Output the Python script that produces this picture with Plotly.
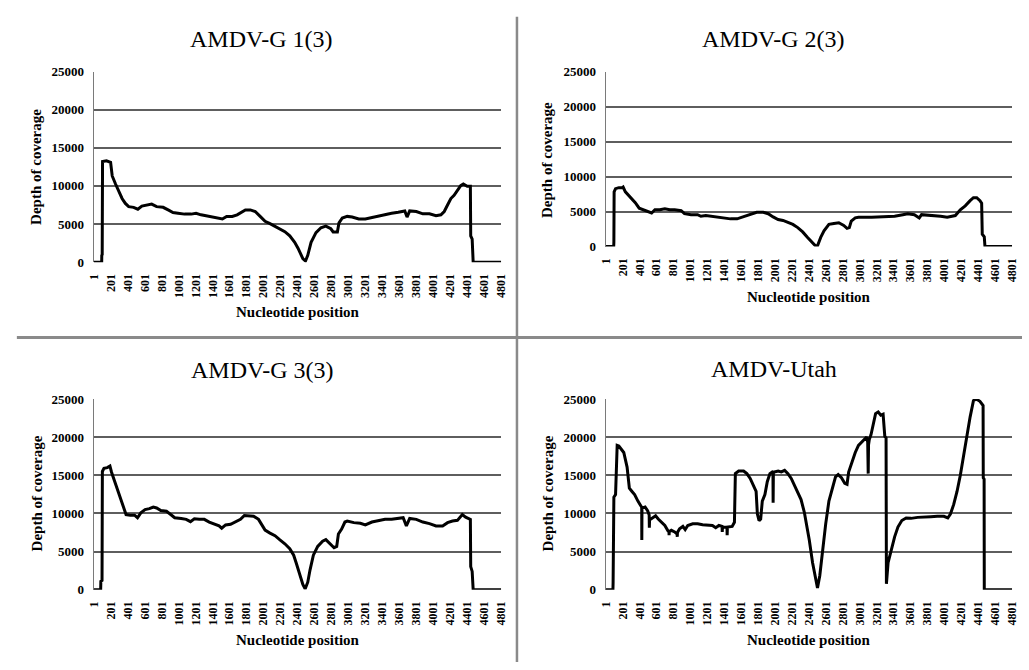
import plotly.graph_objects as go

W, H = 1029, 670

# ---------------- data ----------------
titles = ["AMDV-G 1(3)", "AMDV-G 2(3)", "AMDV-G 3(3)", "AMDV-Utah"]
x_ticks = list(range(1, 4802, 200))
y_ticks = [0, 5000, 10000, 15000, 20000, 25000]

pos_g1 = [1, 94, 95, 100, 104, 150, 199, 218, 257, 295, 334, 373, 412, 470, 520, 567, 625, 683, 741, 818,
          877, 934, 993, 1070, 1148, 1206, 1264, 1322, 1400, 1458, 1516, 1566, 1632, 1690, 1729, 1787, 1845, 1903, 1961, 2019,
          2077, 2136, 2194, 2252, 2310, 2368, 2407, 2464, 2495, 2522, 2561, 2619, 2677, 2735, 2794, 2821, 2871, 2890, 2929, 2987,
          3045, 3123, 3200, 3278, 3355, 3433, 3510, 3588, 3665, 3692, 3723, 3801, 3878, 3956, 4033, 4091, 4130, 4169, 4208, 4246,
          4285, 4324, 4355, 4401, 4438, 4442, 4459, 4471, 4801]
cov_g1 = [0, 0, 900, 1000, 13200, 13300, 13100, 11300, 10250, 9200, 8350, 7700, 7280, 7190, 6940, 7360, 7490, 7620, 7280, 7190,
          6850, 6510, 6420, 6300, 6300, 6420, 6210, 6080, 5870, 5790, 5660, 6000, 6000, 6210, 6510, 6850, 6850, 6640, 6000, 5360,
          5060, 4720, 4300, 4000, 3450, 2600, 1830, 470, 150, 900, 2600, 3870, 4510, 4720, 4380, 3960, 3960, 5150, 5790, 6000,
          5910, 5660, 5660, 5870, 6000, 6210, 6420, 6550, 6720, 5910, 6720, 6640, 6340, 6340, 6080, 6210, 6640, 7490, 8340, 8770,
          9400, 10040, 10250, 9960, 9960, 3450, 3020, 0, 0]

pos_g2 = [1, 95, 97, 100, 117, 156, 194, 206, 233, 291, 350, 396, 447, 505, 543, 582, 640, 699, 757, 815,
          892, 931, 1009, 1086, 1125, 1183, 1242, 1319, 1397, 1474, 1552, 1629, 1707, 1784, 1862, 1920, 1978, 2037, 2095, 2153,
          2211, 2269, 2327, 2385, 2424, 2475, 2502, 2540, 2579, 2637, 2696, 2754, 2812, 2851, 2878, 2901, 2948, 2986, 3142, 3297,
          3413, 3510, 3568, 3646, 3704, 3731, 3840, 3956, 4034, 4130, 4189, 4247, 4305, 4344, 4383, 4421, 4441, 4448, 4472, 4480,
          4801]
cov_g2 = [0, 0, 600, 7800, 8270, 8410, 8410, 8500, 7810, 7110, 6270, 5480, 5250, 4880, 4790, 5250, 5250, 5390, 5250, 5250,
          5110, 4690, 4550, 4550, 4320, 4420, 4320, 4180, 4090, 3950, 3950, 4230, 4550, 4880, 4880, 4690, 4230, 3860, 3720, 3490,
          3160, 2700, 2090, 1300, 840, 140, 100, 1300, 2230, 3160, 3300, 3390, 3020, 2600, 2700, 3630, 4090, 4180, 4180, 4230,
          4320, 4550, 4690, 4550, 4090, 4550, 4460, 4320, 4180, 4420, 5250, 5810, 6550, 6970, 6970, 6550, 6180, 1770, 1390, 0,
          0]

pos_g3 = [1, 82, 84, 98, 102, 121, 160, 191, 210, 237, 276, 315, 353, 381, 431, 481, 516, 555, 605, 656,
          702, 741, 791, 857, 907, 954, 1031, 1090, 1140, 1186, 1244, 1303, 1361, 1419, 1477, 1508, 1554, 1613, 1671, 1729,
          1775, 1826, 1884, 1942, 1981, 2019, 2077, 2136, 2194, 2252, 2310, 2356, 2387, 2425, 2464, 2491, 2522, 2549, 2588, 2639,
          2697, 2735, 2782, 2832, 2863, 2883, 2921, 2960, 2987, 3065, 3142, 3200, 3278, 3355, 3433, 3510, 3588, 3646, 3684, 3723,
          3801, 3878, 3956, 4033, 4111, 4169, 4227, 4285, 4343, 4382, 4438, 4442, 4459, 4471, 4801]
cov_g3 = [0, 0, 1100, 1200, 15500, 15900, 16000, 16200, 15400, 14500, 13200, 11900, 10700, 9850, 9770, 9770, 9430, 10070, 10490, 10620,
          10840, 10710, 10370, 10280, 9850, 9430, 9340, 9220, 8920, 9300, 9220, 9220, 8870, 8580, 8360, 8060, 8490, 8580, 8920, 9220,
          9730, 9730, 9640, 9220, 8580, 7810, 7420, 7080, 6530, 6020, 5380, 4520, 3460, 1960, 680, 100, 980, 2600, 4520, 5670,
          6360, 6570, 6020, 5500, 5670, 7300, 7940, 8870, 9000, 8790, 8700, 8490, 8870, 9090, 9220, 9220, 9340, 9430, 8360, 9340,
          9220, 8870, 8660, 8360, 8360, 8790, 9000, 9090, 9860, 9510, 9220, 3030, 2390, 0, 0]

pos_utah = [1, 86, 88, 97, 117, 136, 156, 187, 214, 253, 280, 311, 342, 381, 412, 426, 427, 429, 466, 497,
            514, 516, 519, 536, 563, 590, 621, 660, 699, 737, 748, 749, 751, 776, 815, 844, 846, 848, 873, 912,
            939, 970, 1028, 1086, 1145, 1203, 1261, 1300, 1338, 1375, 1377, 1380, 1433, 1435, 1438, 1494, 1521, 1532, 1571, 1629,
            1668, 1707, 1746, 1777, 1792, 1812, 1831, 1850, 1881, 1909, 1940, 1971, 1976, 1978, 1981, 2037, 2075, 2114, 2153, 2192,
            2230, 2269, 2308, 2347, 2385, 2405, 2444, 2482, 2502, 2529, 2560, 2599, 2637, 2676, 2715, 2746, 2785, 2824, 2851, 2870,
            2909, 2948, 2986, 3025, 3064, 3083, 3095, 3101, 3105, 3114, 3134, 3161, 3188, 3219, 3250, 3277, 3297, 3312, 3316, 3336,
            3374, 3413, 3452, 3498, 3549, 3607, 3685, 3762, 3840, 3917, 3995, 4041, 4072, 4111, 4150, 4189, 4227, 4266, 4305, 4344,
            4375, 4421, 4458, 4460, 4470, 4472, 4801]
cov_utah = [0, 0, 980, 12120, 12460, 18920, 18840, 18410, 17990, 16070, 13310, 12880, 12460, 11610, 10970, 10800, 6500, 10700, 10840, 10330,
            9800, 8120, 9300, 9270, 9480, 9690, 9270, 8840, 8420, 7700, 7600, 7140, 7600, 7780, 7570, 7300, 6930, 7500, 7990, 8290,
            7870, 8420, 8630, 8630, 8500, 8420, 8420, 8120, 8420, 8300, 7570, 8200, 8200, 7140, 8200, 8290, 8840, 15220, 15560, 15560,
            15220, 14580, 13730, 12880, 9910, 9060, 9270, 11610, 12460, 14160, 15220, 15520, 15500, 11400, 15400, 15560, 15440, 15650, 15220, 14580,
            13730, 12880, 11820, 10120, 7780, 6500, 3530, 980, 210, 1830, 5230, 8630, 11610, 13310, 14800, 15090, 14670, 13950, 13820, 15430,
            16710, 17990, 18920, 19350, 19690, 20030, 19350, 15220, 19000, 19690, 20320, 21810, 23090, 23300, 22880, 23000, 20110, 19900, 765, 3530,
            5230, 6930, 8210, 9060, 9400, 9350, 9480, 9480, 9570, 9610, 9610, 9400, 9910, 11180, 12880, 15010, 17560, 20110, 22660, 24790,
            25000, 24700, 24150, 14670, 14500, 0, 0]

series = [(pos_g1, cov_g1), (pos_g2, cov_g2), (pos_g3, cov_g3), (pos_utah, cov_utah)]

# ---------------- layout helpers (window pixels -> paper) ----------------
def px(x):
    return min(max(x / W, 0), 1)

def py(y):
    return min(max(1 - y / H, 0), 1)

# plot areas: (left, right, top, bottom) in window pixels
boxes = [(88, 501, 66, 261), (607, 1019, 66, 245), (88, 501, 401, 596), (607, 1019, 401, 596)]
title_pos = [(258, 33), (777, 33), (259, 371), (778, 370)]
xtitle_pos = [(295, 312), (813, 297), (295, 648), (813, 648)]
ytitle_pos = [(30, 164), (548, 157), (30, 498), (548, 498)]

SERIF = "Liberation Serif"
fig = go.Figure()
annotations = []
for i, ((xs, ys), (l, r, t, b)) in enumerate(zip(series, boxes)):
    k = "" if i == 0 else str(i + 1)
    fig.add_trace(go.Scatter(x=xs, y=ys, mode="lines", line=dict(color="black", width=3),
                             xaxis="x" + k, yaxis="y" + k, showlegend=False, hoverinfo="skip"))
    fig.layout["xaxis" + k] = dict(
        domain=[px(l), px(r)], anchor="y" + k, range=[1, 4801],
        tickvals=x_ticks, ticktext=[str(v) for v in x_ticks], tickangle=-90,
        tickfont=dict(family=SERIF, size=12, color="black", weight="bold"),
        showgrid=False, zeroline=False, showline=False,
        ticks="outside", ticklen=6, tickcolor="rgba(0,0,0,0)")
    fig.layout["yaxis" + k] = dict(
        domain=[py(b), py(t)], anchor="x" + k, range=[0, 25000],
        tickvals=y_ticks, ticktext=[str(v) for v in y_ticks],
        tickfont=dict(family=SERIF, size=13, color="black", weight="bold"),
        showgrid=True, gridcolor="#5e5e5e", gridwidth=1.6, zeroline=False,
        showline=True, linecolor="#7a7a7a", linewidth=1.2,
        ticks="outside", ticklen=6, tickcolor="rgba(0,0,0,0)")
    tx, ty = title_pos[i]
    annotations.append(dict(text=titles[i], x=px(tx), y=py(ty), xref="paper", yref="paper",
                            showarrow=False, xanchor="center", yanchor="middle",
                            font=dict(family=SERIF, size=24, color="black")))
    ax, ay = xtitle_pos[i]
    annotations.append(dict(text="Nucleotide position", x=px(ax), y=py(ay), xref="paper", yref="paper",
                            showarrow=False, xanchor="center", yanchor="middle",
                            font=dict(family=SERIF, size=15, color="black", weight="bold")))
    bx, by = ytitle_pos[i]
    annotations.append(dict(text="Depth of coverage", x=px(bx), y=py(by), xref="paper", yref="paper",
                            showarrow=False, xanchor="center", yanchor="middle", textangle=-90,
                            font=dict(family=SERIF, size=15, color="black", weight="bold")))

shapes = [
    dict(type="line", xref="paper", yref="paper", x0=px(10), x1=1, y0=py(338), y1=py(338),
         line=dict(color="#8a8a8a", width=3)),
    dict(type="line", xref="paper", yref="paper", x0=px(517), x1=px(517), y0=0, y1=py(10),
         line=dict(color="#8a8a8a", width=2.5)),
]

fig.update_layout(width=W, height=H, margin=dict(l=0, r=0, t=0, b=0),
                  paper_bgcolor="white", plot_bgcolor="white",
                  annotations=annotations, shapes=shapes)

# remove the default page margins so the 1029x670 figure fills the window exactly
reset_css = ("document.documentElement.style.margin='0';document.documentElement.style.padding='0';"
             "document.body.style.margin='0';document.body.style.padding='0';"
             "document.documentElement.style.overflow='hidden';document.body.style.overflow='hidden';")
fig.write_html("out.html", post_script=reset_css, config={"displayModeBar": False})
